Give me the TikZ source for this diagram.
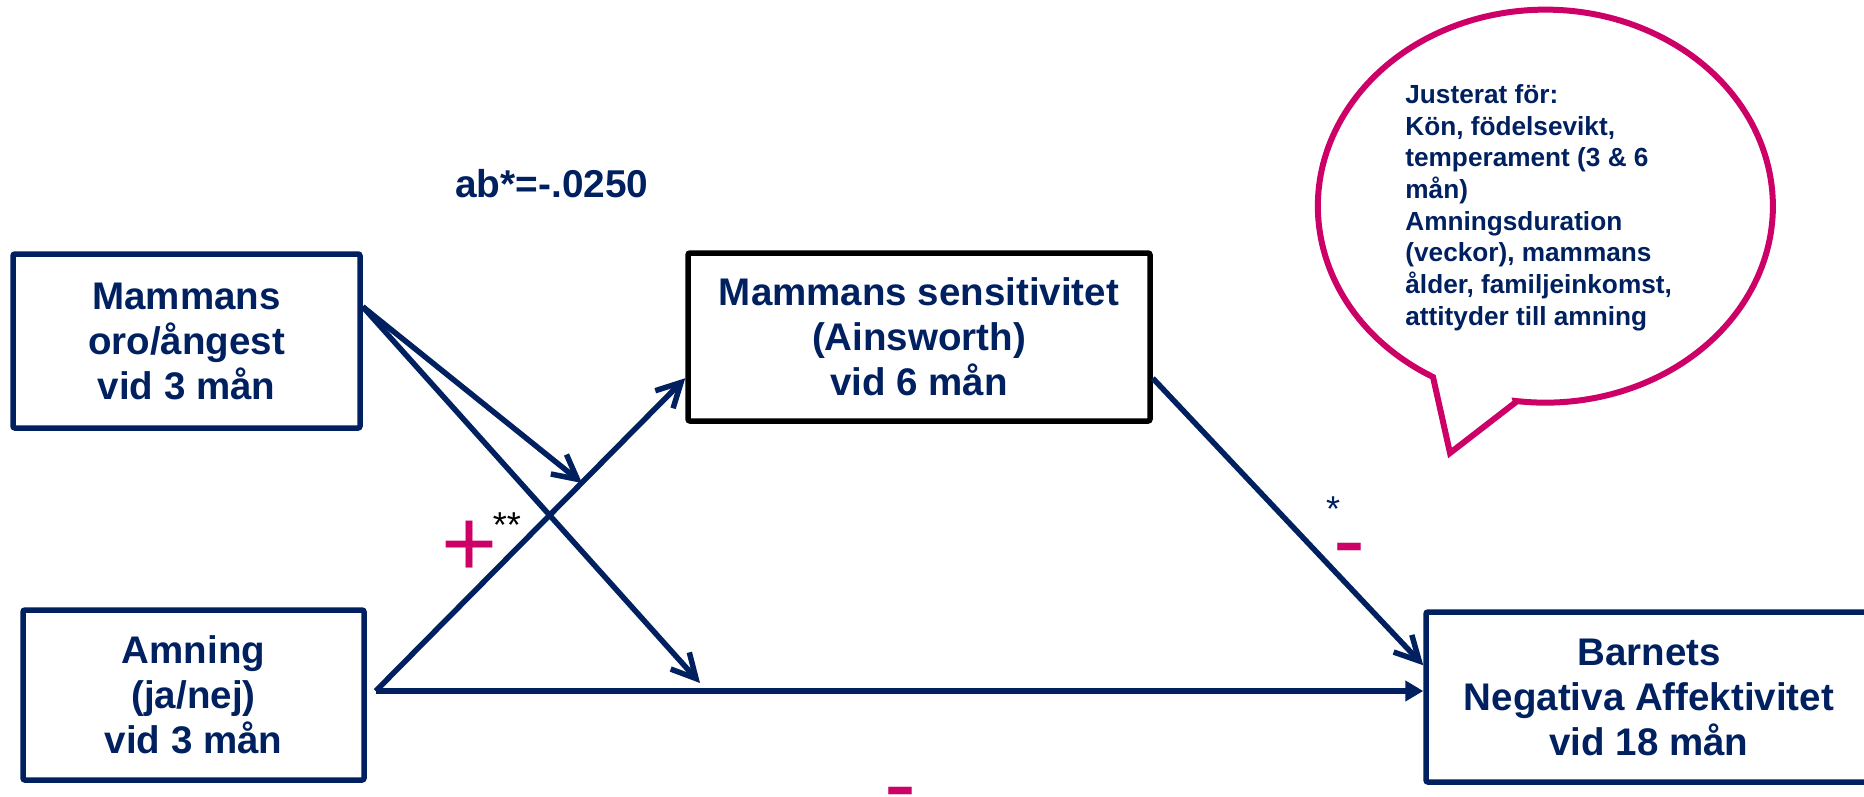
\documentclass[tikz,border=0pt]{standalone}
\usepackage{fontspec}
\setmainfont{Liberation Sans}
\usetikzlibrary{arrows.meta}
\definecolor{navy}{RGB}{0,32,96}
\definecolor{rosa}{RGB}{204,0,102}
\begin{document}
\begin{tikzpicture}[x=0.5pt,y=-0.5pt,
        box/.style={draw=navy, line width=2.75pt, rounded corners=1pt, text=navy, align=center, inner sep=0pt,
            font=\bfseries\fontsize{19.25}{22.5}\selectfont},
        effect/.style={navy, line width=2.75pt, -{Straight Barb[length=12pt,width=12.5pt]}},
        signtxt/.style={text=rosa, inner sep=0pt, font=\fontsize{48}{50}\selectfont}]
        \useasboundingbox (0,0) rectangle (1864,797);
        \node[box, minimum width=173.5pt, minimum height=87pt] (oro) at (186.5,341) {Mammans\\oro/ångest\\vid 3 mån};
        \node[box, minimum width=170.5pt, minimum height=85pt] (amning) at (193.5,695) {Amning\\(ja/nej)\\vid 3 mån};
        \node[box, draw=black, minimum width=231pt, minimum height=84pt] (sens) at (919,337) {Mammans sensitivitet\\(Ainsworth)\\vid 6 mån};
        \node[box, minimum width=223pt, minimum height=85pt] (barn) at (1649,697) {Barnets\\Negativa Affektivitet\\vid 18 mån};
        \coordinate (b0) at ([shift={(4.5pt,2pt)}]amning.east);
        \coordinate (mod1) at (582,483);
        \coordinate (mod2) at (700,683);
        \draw[effect] (oro.11) -- (mod1);
        \draw[effect] (oro.11) -- (mod2);
        \draw[effect] (b0) -- (sens.190.5);
        \draw[effect] (sens.-10.5) -- (barn.172.6);
        \draw[navy, line width=2.75pt, -{Triangle[length=9pt,width=10pt]}] (b0) -- (b0 -| barn.west);
        \node[anchor=base west, text=navy, inner sep=0pt, font=\bfseries\fontsize{19.4}{22}\selectfont] (ab) at (455,198) {ab*=-.0250};
        \node[signtxt, anchor=base] (plus) at (470,576) {+};
        \node[anchor=base, inner sep=0pt, font=\fontsize{18}{20}\selectfont] (p2) at (507,537) {**};
        \node[anchor=base, text=navy, inner sep=0pt, font=\fontsize{18}{20}\selectfont] (p1) at (1333,521) {*};
        \node[signtxt, anchor=base] (minus1) at (1349,572) {-};
        \node[signtxt, anchor=base] (minus2) at (900,816) {-};
        \draw[rosa, line width=3pt] (1516,402) -- (1450,453) -- (1433,377)
            arc[start angle=-119.6, end angle=-457.5, x radius=113.75pt, y radius=98.25pt] -- cycle;
        \node[anchor=north west, text=navy, align=left, inner sep=0pt, font=\bfseries\fontsize{13.1}{15.85}\selectfont] (adj) at (1405,84)
            {Justerat för:\\Kön, födelsevikt,\\temperament (3 \& 6\\mån)\\Amningsduration\\(veckor), mammans\\ålder, familjeinkomst,\\attityder till amning};
\end{tikzpicture}
\end{document}
